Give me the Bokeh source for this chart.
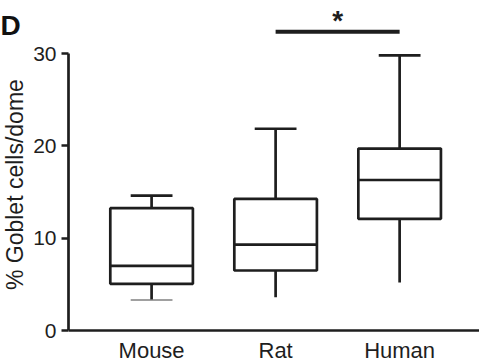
from bokeh.plotting import figure
from bokeh.layouts import row
from bokeh.models import Range1d, FixedTicker, ColumnDataSource, Span, GlobalInlineStyleSheet
from bokeh.embed import file_html
from bokeh.resources import INLINE
from bokeh.core.properties import value
import math

# ---- data ----
categories = ["Mouse", "Rat", "Human"]
whisker_low = [3.3, 3.6, 5.2]
q1 = [5.05, 6.5, 12.1]
median = [7.0, 9.3, 16.3]
q3 = [13.25, 14.25, 19.7]
whisker_high = [14.6, 21.85, 29.8]
low_cap = [True, False, False]
sig_pair = ("Rat", "Human")
sig_label = "*"
sig_level = 32.35
y_ticks = [0, 10, 20, 30]
y_label = "% Goblet cells/dome"
panel_label = "D"

# ---- layout constants ----
FONT = "Liberation Sans"
H = 362
WA = 30                 # left strip with panel letter and axis title
WB = 449                # main plot
box_w = 0.666
cap_w = 0.337
pos = [i + 1 for i in range(len(categories))]
ppu = 9.233             # pixels per y unit
zero_px = 330           # y = 0 measured from top
y_rng = Range1d(-(H - zero_px) / ppu, zero_px / ppu)
LW = 2.7
col = "#1e1e1e"

# ---- main plot ----
p = figure(width=WB, height=H, output_backend="svg", toolbar_location=None,
           x_range=Range1d(0.330, 3.644), y_range=y_rng,
           min_border_left=36, min_border_right=0, min_border_top=0,
           min_border_bottom=0)
p.outline_line_color = None
p.grid.visible = False
p.xaxis.visible = False

src = ColumnDataSource(dict(x=pos, lo=whisker_low, q1=q1, med=median, q3=q3, hi=whisker_high,
                            x0=[x - box_w / 2 for x in pos], x1=[x + box_w / 2 for x in pos],
                            c0=[x - cap_w / 2 for x in pos], c1=[x + cap_w / 2 for x in pos],
                            name=categories))

# x axis line at y = 0
p.add_layout(Span(location=0, dimension="width", line_color=col, line_width=LW))
# whiskers
p.segment(x0="x", x1="x", y0="q3", y1="hi", source=src, line_width=LW, line_color=col)
p.segment(x0="x", x1="x", y0="q1", y1="lo", source=src, line_width=LW, line_color=col)
p.segment(x0="c0", x1="c1", y0="hi", y1="hi", source=src, line_width=LW, line_color=col)
lc = [i for i, v in enumerate(low_cap) if v]
p.segment(x0=[src.data["c0"][i] for i in lc], x1=[src.data["c1"][i] for i in lc],
          y0=[whisker_low[i] for i in lc], y1=[whisker_low[i] for i in lc],
          line_width=1.6, line_color="#808080")
# boxes
p.vbar(x="x", width=box_w, bottom="q1", top="q3", source=src, fill_color="white",
       line_color=col, line_width=LW)
p.segment(x0="x0", x1="x1", y0="med", y1="med", source=src, line_width=LW, line_color=col)

# category labels under the axis
p.text(x="x", y=-2.15, text="name", source=src, text_align="center",
       text_baseline="alphabetic", text_font=value(FONT), text_font_size="22px",
       text_color=col)

# significance bar
xa = pos[categories.index(sig_pair[0])]
xb = pos[categories.index(sig_pair[1])]
p.segment(x0=[xa], x1=[xb], y0=[sig_level], y1=[sig_level], line_width=4, line_color=col)
p.text(x=[(xa + xb) / 2], y=[sig_level + 1.2], text=[sig_label], text_align="center",
       text_baseline="alphabetic", text_font=value(FONT), text_font_size="28px",
       text_font_style="bold", text_color=col)

# y axis
ya = p.yaxis[0]
ya.ticker = FixedTicker(ticks=y_ticks)
ya.bounds = (0, 30)
ya.axis_line_width = LW
ya.axis_line_color = col
ya.major_tick_line_width = LW
ya.major_tick_line_color = col
ya.major_tick_out = 7
ya.major_tick_in = 0
ya.minor_tick_line_color = None
ya.major_label_standoff = 5
ya.major_label_text_font = FONT
ya.major_label_text_font_size = "21px"
ya.major_label_text_color = col

# ---- left strip: panel letter and y-axis title ----
a = figure(width=WA, height=H, output_backend="svg", toolbar_location=None,
           x_range=Range1d(0, WA), y_range=y_rng, x_axis_type=None, y_axis_type=None,
           min_border=0)
a.outline_line_color = None
a.grid.visible = False
a.text(x=[0], y=[33.05], text=[panel_label], text_align="left", text_baseline="alphabetic",
       text_font=value(FONT), text_font_size="28px", text_font_style="bold",
       text_color="#111111")
a.text(x=[14.5], y=[15.8], text=[y_label], angle=math.pi / 2, text_align="center",
       text_baseline="alphabetic", text_font=value(FONT), text_font_size="23px",
       text_color=col)

layout = row(a, p, spacing=0)
layout.stylesheets = [GlobalInlineStyleSheet(css="html, body { overflow: hidden; }")]

open("out.html", "w").write(file_html(layout, INLINE))
